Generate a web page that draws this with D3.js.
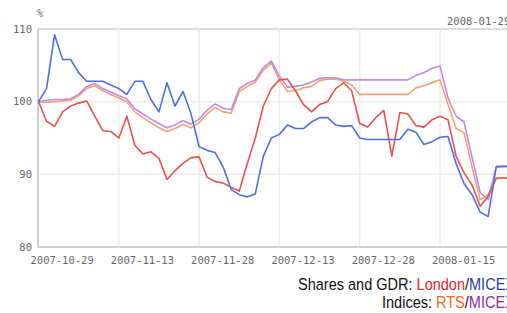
<!DOCTYPE html>
<html>
<head>
<meta charset="utf-8">
<script src="https://cdn.jsdelivr.net/npm/d3@7"></script>
<style>
  html, body { margin: 0; padding: 0; background: #fff; overflow: hidden; }
</style>
</head>
<body>
<div id="chart"></div>
<script>
// 1. SETUP
const width = 507;
const height = 313;

// --- DATA (trading days, index = 100 at start) ---
const tickLabels = ["2007-10-29", "2007-11-13", "2007-11-28", "2007-12-13", "2007-12-28", "2008-01-15"];
const tickEvery = 10; // one label every 10 trading days
const yTicks = [80, 90, 100, 110];

const londonShares = [100, 97.3, 96.6, 98.6, 99.4, 99.8, 100.1, 98, 96, 95.9,
    95, 98, 94, 92.8, 93.1, 92.2, 89.3, 90.5, 91.5, 92.3,
    92.4, 89.6, 89, 88.8, 88.2, 87.7, 91.5, 95, 99.4, 101.8,
    103, 103.1, 101.5, 99.6, 98.6, 99.6, 100, 101.8, 102.6, 101.5,
    97, 96.5, 97.8, 98.8, 92.5, 98.5, 98.3, 96.7, 96.5, 97.5,
    98, 97.5, 92.5, 90.2, 88.5, 85.6, 87, 89.5, 89.5, 89.5];

const micexShares = [100, 101.8, 109.2, 105.8, 105.8, 104, 102.8, 102.8, 102.8, 102.3,
    101.8, 101, 102.8, 102.8, 100.3, 98.6, 102.6, 99.4, 101.4, 98.3,
    93.8, 93.3, 93, 91, 87.9, 87.2, 86.9, 87.3, 92.5, 95,
    95.5, 96.8, 96.3, 96.3, 97.2, 97.8, 97.8, 96.8, 96.6, 96.7,
    95, 94.8, 94.8, 94.8, 94.8, 94.8, 96.2, 95.8, 94.1, 94.5,
    95.1, 95.2, 91.5, 88.7, 87.2, 84.8, 84.2, 91, 91.1, 91.1];

const rtsIndex = [100, 99.9, 100, 100.1, 100.2, 100.8, 101.8, 102.2, 101.5, 101,
    100.5, 100, 98.6, 97.8, 97.1, 96.4, 95.9, 96.3, 96.9, 96.4,
    97.1, 98.3, 99.2, 98.6, 98.4, 101.4, 102.1, 102.7, 104.3, 105.3,
    103, 101.4, 101.5, 101.9, 102.1, 102.9, 103.1, 103.1, 102.8, 102.3,
    101, 101, 101, 101, 101, 101, 101, 101.9, 102.2, 102.6,
    103, 99.6, 96.3, 95.7, 91, 86.5, 87.2, 89.4, 89.5, 89.5];

const micexIndex = [100, 100.2, 100.3, 100.3, 100.4, 101, 102.1, 102.5, 101.8, 101.3,
    100.8, 100.4, 99, 98.3, 97.6, 97, 96.4, 96.8, 97.4, 96.9,
    97.6, 98.8, 99.7, 99.1, 98.9, 101.8, 102.5, 103, 104.7, 105.6,
    103.5, 102, 102.1, 102.3, 102.7, 103.2, 103.3, 103.3, 103, 103,
    103, 103, 103, 103, 103, 103, 103, 103.6, 104, 104.6,
    104.9, 100.5, 98, 97.2, 92.3, 87.5, 86.5, 91.1, 91.1, 91.1];

const series = [
    { name: "RTS", values: rtsIndex, color: "#f3a272" },
    { name: "MICEX index", values: micexIndex, color: "#bf8ae8" },
    { name: "London", values: londonShares, color: "#e6524e" },
    { name: "MICEX shares", values: micexShares, color: "#4f6fe0" }
];

const svg = d3.select("#chart")
    .append("svg")
    .attr("width", width)
    .attr("height", height)
    .attr("viewBox", [0, 0, width, height]);

// --- SCALES ---
const x = d3.scaleLinear()
    .domain([0, 1])
    .range([38.5, 46.53]); // ~8 px per trading day

const y = d3.scaleLinear()
    .domain([80, 110])
    .range([247, 29]);

const monoFont = "'DejaVu Sans Mono', monospace";

// --- GRID ---
const tickIdx = tickLabels.map((d, i) => i * tickEvery);

svg.append("g")
    .selectAll("line")
    .data(yTicks.filter(d => d > 80))
    .join("line")
    .attr("x1", 38).attr("x2", width)
    .attr("y1", d => y(d)).attr("y2", d => y(d))
    .attr("stroke", d => d === 110 ? "#dcdcdc" : "#ececec")
    .attr("stroke-width", d => d === 110 ? 2 : 1.5);

svg.append("g")
    .selectAll("line")
    .data(tickIdx.slice(1))
    .join("line")
    .attr("x1", d => x(d)).attr("x2", d => x(d))
    .attr("y1", y(110)).attr("y2", y(80))
    .attr("stroke", "#ececec")
    .attr("stroke-width", 1.5);

// axis lines
svg.append("line")
    .attr("x1", 38).attr("x2", 38)
    .attr("y1", y(110)).attr("y2", y(80) + 1)
    .attr("stroke", "#cfcfcf")
    .attr("stroke-width", 2);

svg.append("line")
    .attr("x1", 37).attr("x2", width)
    .attr("y1", y(80)).attr("y2", y(80))
    .attr("stroke", "#cfcfcf")
    .attr("stroke-width", 2);

// --- AXIS LABELS ---
svg.append("g")
    .selectAll("text")
    .data(yTicks)
    .join("text")
    .attr("x", 32)
    .attr("y", d => y(d) + 3.5)
    .attr("text-anchor", "end")
    .attr("font-family", monoFont)
    .attr("font-size", "10.5px")
    .attr("fill", "#666")
    .text(d => d);

svg.append("text")
    .attr("x", 37)
    .attr("y", 17)
    .attr("font-family", monoFont)
    .attr("font-size", "10px")
    .attr("fill", "#666")
    .text("%");

svg.append("g")
    .selectAll("text")
    .data(tickLabels)
    .join("text")
    .attr("x", (d, i) => x(tickIdx[i]) - 8)
    .attr("y", 264)
    .attr("font-family", monoFont)
    .attr("font-size", "10.5px")
    .attr("fill", "#666")
    .text(d => d);

// date label at top right (cut by the right edge, as in the original)
svg.append("text")
    .attr("x", 447)
    .attr("y", 25)
    .attr("font-family", monoFont)
    .attr("font-size", "10.5px")
    .attr("fill", "#666")
    .text("2008-01-29");

// --- LINES ---
const line = d3.line()
    .x((d, i) => x(i))
    .y(d => y(d));

svg.append("g")
    .selectAll("path")
    .data(series)
    .join("path")
    .attr("d", d => line(d.values))
    .attr("fill", "none")
    .attr("stroke", d => d.color)
    .attr("stroke-width", 1.6)
    .attr("stroke-linejoin", "round");

// --- LEGEND TEXT (condensed look) ---
const legendFont = "'Liberation Sans', Arial, sans-serif";

const leg1 = svg.append("text")
    .attr("transform", "translate(298,290) scale(0.88,1)")
    .attr("font-family", legendFont)
    .attr("font-size", "16.5px")
    .attr("fill", "#111");
leg1.append("tspan").text("Shares and GDR: ");
leg1.append("tspan").attr("fill", "#e2262c").text("London");
leg1.append("tspan").text("/");
leg1.append("tspan").attr("fill", "#1f3f9f").text("MICEX");

const leg2 = svg.append("text")
    .attr("transform", "translate(382,308) scale(0.88,1)")
    .attr("font-family", legendFont)
    .attr("font-size", "16.5px")
    .attr("fill", "#111");
leg2.append("tspan").text("Indices: ");
leg2.append("tspan").attr("fill", "#f26a1b").text("RTS");
leg2.append("tspan").text("/");
leg2.append("tspan").attr("fill", "#8a2fa0").text("MICEX");
</script>
</body>
</html>
